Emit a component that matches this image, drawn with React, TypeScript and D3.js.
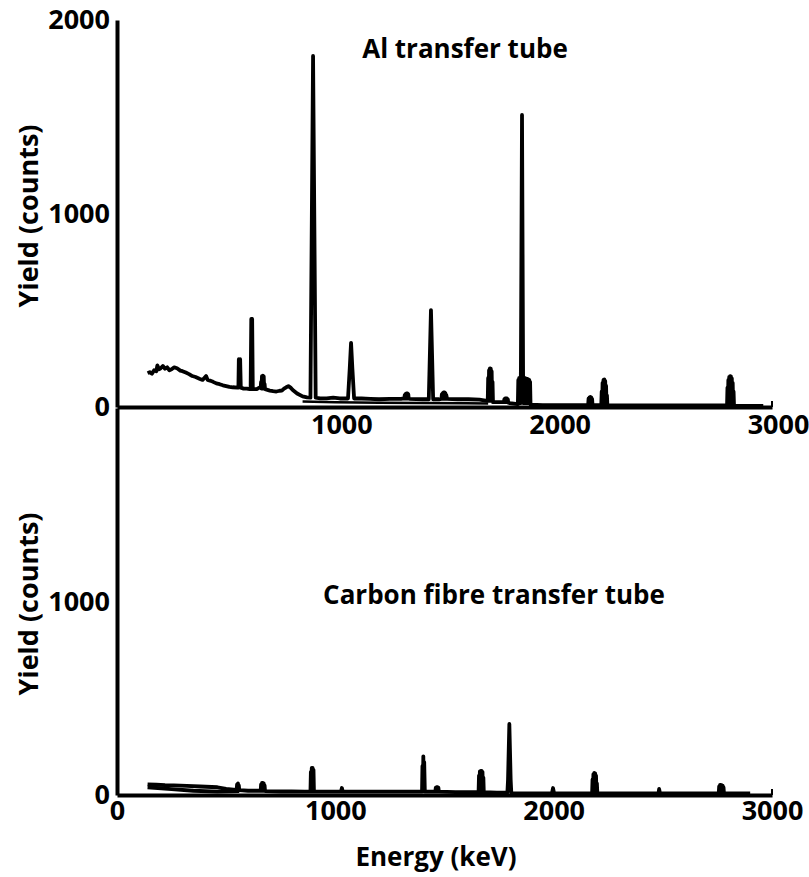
import React, { useRef, useEffect } from "react";
import * as d3 from "d3";

// Al transfer tube spectrum: [energy (keV), yield (counts)], read channel by channel
const alSpectrum = [
  [140, 175], [150, 180], [160, 172], [170, 190], [180, 185], [185, 215], [192, 195], [200, 200], [210, 212], [220, 198],
  [230, 205], [240, 190], [250, 195], [262, 205], [275, 200], [290, 188], [300, 185], [315, 178], [330, 170], [345, 160],
  [360, 155], [370, 150], [380, 145], [392, 140], [400, 150], [408, 160], [415, 140], [430, 135], [440, 130], [455, 122],
  [470, 118], [485, 112], [500, 108], [515, 104], [530, 102], [552, 100],
  [556, 100], [558, 247], [561, 110], [564, 247], [567, 100],
  [580, 95], [595, 95], [608, 92],
  [612, 92], [615, 455], [617, 150], [619, 455], [622, 92],
  [640, 92], [652, 100],
  [658, 100], [660, 130], [662, 95], [664, 160], [666, 95], [668, 162], [670, 95], [672, 158], [674, 95], [676, 120], [678, 92],
  [700, 85], [715, 82], [730, 80], [745, 84], [755, 85], [765, 95], [775, 102], [785, 108], [795, 100], [805, 88],
  [825, 70], [850, 55], [870, 50], [886, 48], [898, 1814], [910, 48],
  [930, 45], [960, 45], [990, 48], [1020, 44], [1058, 44], [1066, 200], [1072, 331], [1078, 200], [1086, 44],
  [1120, 44], [1160, 42], [1200, 40], [1250, 42], [1300, 42],
  [1316, 45], [1318, 62], [1320, 44], [1322, 68], [1324, 44], [1326, 70], [1328, 44], [1330, 70], [1332, 44], [1334, 66], [1336, 44], [1340, 42],
  [1400, 40], [1428, 40], [1438, 501], [1448, 40], [1475, 40],
  [1486, 42], [1488, 66], [1490, 42], [1492, 72], [1494, 42], [1496, 75], [1498, 42], [1500, 75], [1502, 42], [1504, 72], [1506, 42], [1508, 62], [1512, 42],
  [1560, 40], [1610, 40], [1660, 38], [1694, 32],
  [1698, 32], [1700, 150], [1702, 32], [1704, 190], [1706, 32], [1708, 200], [1710, 32], [1712, 198], [1714, 32], [1716, 185], [1718, 30], [1720, 130], [1722, 25],
  [1760, 25],
  [1772, 25], [1774, 40], [1776, 25], [1778, 45], [1780, 25], [1782, 45], [1784, 25], [1786, 45], [1788, 25], [1790, 40], [1792, 22],
  [1800, 20], [1834, 15],
  [1836, 15], [1838, 140], [1840, 20], [1842, 150], [1844, 20], [1846, 150], [1848, 20], [1850, 200], [1855, 1509], [1860, 150],
  [1862, 20], [1864, 150], [1866, 20], [1868, 150], [1870, 20], [1872, 148], [1874, 20], [1876, 145], [1878, 20], [1880, 145],
  [1882, 20], [1884, 142], [1886, 20], [1888, 140], [1890, 20], [1892, 130], [1894, 12],
  [1950, 10], [2000, 10], [2100, 10], [2155, 10],
  [2158, 12], [2160, 45], [2162, 12], [2164, 50], [2166, 12], [2168, 52], [2170, 12], [2172, 50], [2174, 12], [2176, 42], [2178, 10],
  [2215, 10],
  [2218, 10], [2220, 80], [2222, 10], [2224, 125], [2226, 10], [2228, 140], [2230, 10], [2232, 142], [2234, 10], [2236, 135],
  [2238, 10], [2240, 110], [2242, 10], [2244, 60], [2246, 8],
  [2300, 8], [2400, 8], [2500, 8], [2600, 8], [2700, 8], [2790, 8],
  [2794, 8], [2796, 100], [2798, 8], [2800, 140], [2802, 8], [2804, 155], [2806, 8], [2808, 160], [2810, 8], [2812, 158],
  [2814, 8], [2816, 148], [2818, 8], [2820, 125], [2822, 8], [2824, 80], [2826, 6],
  [2900, 6], [2960, 6],
];

// lower background band under the Al spectrum
const alLowBackground = [[850, 28], [1000, 24], [1200, 22], [1400, 21], [1600, 20], [1700, 18]];

// Carbon fibre transfer tube spectrum
const carbonSpectrum = [
  [140, 55], [180, 53], [220, 51], [260, 50], [320, 47], [380, 44], [460, 40], [500, 32], [545, 27],
  [548, 27], [550, 55], [552, 27], [554, 60], [556, 27], [558, 50], [560, 25],
  [600, 22], [655, 22],
  [658, 22], [660, 55], [662, 22], [664, 62], [666, 22], [668, 62], [670, 22], [672, 60], [674, 22], [676, 50], [678, 20],
  [750, 18], [800, 18], [860, 17], [884, 17],
  [886, 17], [888, 120], [890, 17], [892, 140], [894, 17], [896, 140], [898, 17], [900, 130], [902, 17],
  [950, 17], [1000, 17], [1026, 17], [1030, 36], [1034, 17], [1100, 17], [1200, 17], [1300, 17], [1394, 17],
  [1397, 17], [1399, 150], [1401, 30], [1403, 200], [1405, 30], [1407, 170], [1410, 17],
  [1455, 17],
  [1458, 17], [1460, 38], [1462, 17], [1464, 41], [1466, 17], [1468, 41], [1470, 17], [1472, 38], [1474, 17],
  [1550, 15], [1600, 15], [1655, 15],
  [1656, 15], [1658, 100], [1660, 15], [1662, 122], [1664, 15], [1666, 124], [1668, 15], [1670, 124], [1672, 15], [1674, 120],
  [1676, 15], [1678, 90], [1680, 15],
  [1740, 12], [1786, 12], [1788, 12], [1791, 80], [1797, 367], [1803, 80], [1806, 10],
  [1850, 8], [1992, 8], [1997, 36], [2002, 8], [2100, 8],
  [2176, 8], [2178, 80], [2180, 8], [2182, 108], [2184, 8], [2186, 114], [2188, 8], [2190, 112], [2192, 8], [2194, 100],
  [2196, 8], [2198, 60], [2200, 8],
  [2300, 8], [2400, 8], [2480, 8], [2483, 31], [2487, 8], [2600, 8], [2700, 8],
  [2756, 8], [2758, 45], [2760, 8], [2762, 52], [2764, 8], [2766, 52], [2768, 8], [2770, 50], [2772, 8], [2774, 48],
  [2776, 8], [2778, 40], [2780, 8],
  [2900, 8],
];

// second, lower background trace at the start of the carbon spectrum
const carbonLowBackground = [[140, 40], [250, 30], [350, 22], [460, 17], [560, 20]];

const xTicksTop = [1000, 2000, 3000];
const xTicksBottom = [0, 1000, 2000, 3000];
const yTicksTop = [0, 1000, 2000];
const yTicksBottom = [0, 1000];

const App = () => {
  const svgRef = useRef(null);

  useEffect(() => {
    const width = 809;
    const height = 877;
    const font = "'Open Sans', sans-serif";

    const svg = d3.select(svgRef.current).attr("width", width).attr("height", height);
    svg.selectAll("*").remove();

    const x = d3.scaleLinear().domain([0, 3000]).range([117, 772]);
    const yTop = d3.scaleLinear().domain([0, 2000]).range([407, 20]);
    const yBot = d3.scaleLinear().domain([0, 2000]).range([795, 408]);

    const drawTrace = (pts, y, w = 3.8) => {
      const line = d3
        .line()
        .x((d) => x(d[0]))
        .y((d) => y(d[1]));
      svg
        .append("path")
        .attr("d", line(pts))
        .attr("fill", "none")
        .attr("stroke", "#000")
        .attr("stroke-width", w)
        .attr("stroke-linejoin", "round");
    };

    drawTrace(alLowBackground, yTop, 2.5);
    drawTrace(alSpectrum, yTop);
    drawTrace(carbonSpectrum, yBot);
    drawTrace(carbonLowBackground, yBot);

    // Axes
    const styleAxis = (g) => {
      g.select(".domain").attr("stroke", "#000").attr("stroke-width", 4);
      g.selectAll("text")
        .attr("fill", "#000")
        .style("font-family", font)
        .style("font-size", "27px")
        .style("font-weight", 700);
    };

    svg
      .append("g")
      .attr("transform", `translate(0,${yTop(0)})`)
      .call(d3.axisBottom(x).tickValues(xTicksTop).tickSize(0).tickPadding(8).tickFormat(d3.format("d")))
      .call(styleAxis)
      .call((g) => g.selectAll("text").attr("dx", 6));

    svg
      .append("g")
      .attr("transform", `translate(0,${yBot(0)})`)
      .call(d3.axisBottom(x).tickValues(xTicksBottom).tickSize(0).tickPadding(6).tickFormat(d3.format("d")))
      .call(styleAxis);

    svg
      .append("g")
      .attr("transform", `translate(${x(0)},0)`)
      .call(d3.axisLeft(yTop).tickValues(yTicksTop).tickSize(0).tickPadding(7).tickFormat(d3.format("d")))
      .call(styleAxis);

    svg
      .append("g")
      .attr("transform", `translate(${x(0)},0)`)
      .call(d3.axisLeft(yBot).tickValues(yTicksBottom).tickSize(0).tickPadding(7).tickFormat(d3.format("d")))
      .call(styleAxis);

    // small end ticks on the x axes
    [yTop, yBot].forEach((y) => {
      svg
        .append("line")
        .attr("x1", x(3000))
        .attr("x2", x(3000))
        .attr("y1", y(0))
        .attr("y2", y(0) - 6)
        .attr("stroke", "#000")
        .attr("stroke-width", 2);
    });

    // Axis titles
    [216, 604].forEach((cy) => {
      svg
        .append("text")
        .attr("transform", `translate(38,${cy}) rotate(-90)`)
        .attr("text-anchor", "middle")
        .style("font-family", font)
        .style("font-size", "27px")
        .style("font-weight", 700)
        .text("Yield (counts)");
    });

    svg
      .append("text")
      .attr("x", 436)
      .attr("y", 866)
      .attr("text-anchor", "middle")
      .style("font-family", font)
      .style("font-size", "26px")
      .style("font-weight", 700)
      .text("Energy (keV)");

    // Panel titles
    svg
      .append("text")
      .attr("x", 465)
      .attr("y", 58)
      .attr("text-anchor", "middle")
      .style("font-family", font)
      .style("font-size", "26px")
      .style("font-weight", 700)
      .text("Al transfer tube");

    svg
      .append("text")
      .attr("x", 494)
      .attr("y", 604)
      .attr("text-anchor", "middle")
      .style("font-family", font)
      .style("font-size", "26px")
      .style("font-weight", 700)
      .text("Carbon fibre transfer tube");
  }, []);

  return (
    <div>
      <svg ref={svgRef} style={{ position: "absolute", left: 0, top: 0, background: "#fff" }}></svg>
    </div>
  );
};

export default App;
